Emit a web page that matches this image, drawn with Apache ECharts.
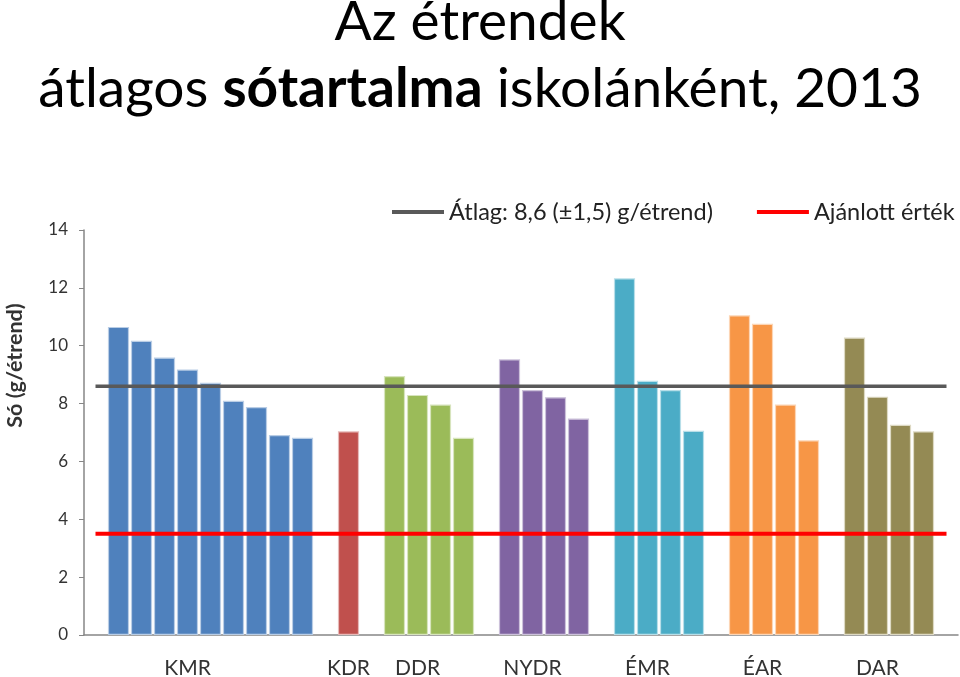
<!DOCTYPE html>
<html>
<head>
<meta charset="utf-8">
<script src="https://cdn.jsdelivr.net/npm/echarts@6/dist/echarts.min.js"></script>
<style>html,body{margin:0;padding:0;background:#fff;}#c{width:960px;height:677px;}</style>
</head>
<body>
<div id="c"></div>
<script>
// ---- data ----
var groups = ['KMR', 'KDR', 'DDR', 'NYDR', 'ÉMR', 'ÉAR', 'DAR'];
var kmr  = [10.65, 10.17, 9.59, 9.18, 8.72, 8.10, 7.88, 6.91, 6.82];
var kdr  = [7.04];
var ddr  = [8.95, 8.30, 7.97, 6.82];
var nydr = [9.53, 8.47, 8.22, 7.48];
var emr  = [12.33, 8.79, 8.47, 7.06];
var ear  = [11.05, 10.76, 7.97, 6.73];
var dar  = [10.28, 8.24, 7.27, 7.04];
var groupValues = [kmr, kdr, ddr, nydr, emr, ear, dar];
var labelSlot = [3, 0, 1, 1, 1, 1, 1];   // which bar of the group carries the group label
var colors = ['#4F81BD', '#C0504D', '#9BBB59', '#8064A2', '#4BACC6', '#F79646', '#948A54'];
var borders = ['#B9CDE5', '#E6B9B8', '#D7E4BD', '#CCC1DA', '#B7DEE8', '#FCD5B5', '#DDD9C3'];
var averageName = 'Átlag: 8,6 (±1,5) g/étrend)';
var averageValue = 8.6;
var recommendedName = 'Ajánlott érték';
var recommendedValue = 3.5;
var yTicks = [0, 2, 4, 6, 8, 10, 12, 14];

// ---- build category slots: empty slot before, between and after groups ----
var categories = [], labels = [], slotGroup = [], slotIndex = [];
function addGap(i) { categories.push('gap' + i); labels.push(''); slotGroup.push(-1); slotIndex.push(-1); }
addGap(0);
groups.forEach(function (g, gi) {
  groupValues[gi].forEach(function (v, k) {
    categories.push(g + ' ' + (k + 1));
    labels.push(k === labelSlot[gi] ? g : '');
    slotGroup.push(gi); slotIndex.push(k);
  });
  addGap(gi + 1);
});

var series = groups.map(function (g, gi) {
  return {
    name: g,
    type: 'bar',
    stack: 'all',
    barCategoryGap: '8%',
    itemStyle: { color: colors[gi], borderColor: borders[gi], borderWidth: 1.2 },
    data: categories.map(function (c, i) { return slotGroup[i] === gi ? groupValues[gi][slotIndex[i]] : '-'; }),
    z: 2
  };
});
series.push({
  name: averageName, type: 'line', symbol: 'none', z: 5,
  lineStyle: { color: '#595959', width: 3.5 }, itemStyle: { color: '#595959' },
  data: categories.map(function () { return averageValue; })
});
series.push({
  name: recommendedName, type: 'line', symbol: 'none', z: 6,
  lineStyle: { color: '#FF0000', width: 4 }, itemStyle: { color: '#FF0000' },
  data: categories.map(function () { return recommendedValue; })
});

var FONT = 'Lato';
var TS = 55;
var chart = echarts.init(document.getElementById('c'), null, { renderer: 'canvas' });
chart.setOption({
  animation: false,
  backgroundColor: '#fff',
  textStyle: { fontFamily: FONT },
  title: {
    left: 'center', top: -16,
    text: '{n|Az étrendek}\n{n|átlagos }{b|sótartalma}{n| iskolánként, 2013}',
    textStyle: {
      fontFamily: FONT, fontSize: TS, color: '#000', lineHeight: 67,
      rich: {
        n: { fontFamily: FONT, fontSize: TS, color: '#000', lineHeight: 67, fontWeight: 'normal' },
        b: { fontFamily: FONT, fontSize: TS, color: '#000', lineHeight: 67, fontWeight: 'bold' }
      }
    }
  },
  legend: {
    data: [averageName, recommendedName],
    left: 387, top: 195,
    icon: 'rect', itemWidth: 52, itemHeight: 4, itemGap: 44, itemTextGap: 7,
    textStyle: { fontFamily: FONT, fontSize: 23.5, color: '#222' }
  },
  grid: { left: 84, right: 2, top: 230, bottom: 42, containLabel: false, outerBoundsMode: 'none' },
  xAxis: {
    type: 'category', data: categories,
    axisLine: { lineStyle: { color: '#868686', width: 1.5 } },
    axisTick: { show: false },
    axisLabel: {
      interval: 0, margin: 23, fontSize: 21, color: '#333', fontFamily: FONT,
      formatter: function (v, i) { return labels[i]; }
    }
  },
  yAxis: {
    type: 'value', min: yTicks[0], max: yTicks[yTicks.length - 1], interval: 2,
    name: 'Só (g/étrend)', nameLocation: 'middle', nameGap: 58,
    nameTextStyle: { fontFamily: FONT, fontSize: 21.5, fontWeight: 'bold', color: '#333', padding: [0, 0, 0, 134] },
    axisLine: { show: true, lineStyle: { color: '#868686', width: 1.5 } },
    axisTick: { show: true, length: 5, lineStyle: { color: '#868686' } },
    splitLine: { show: false },
    axisLabel: { fontSize: 17, color: '#333', margin: 16, fontFamily: FONT }
  },
  series: series
});
</script>
</body>
</html>
